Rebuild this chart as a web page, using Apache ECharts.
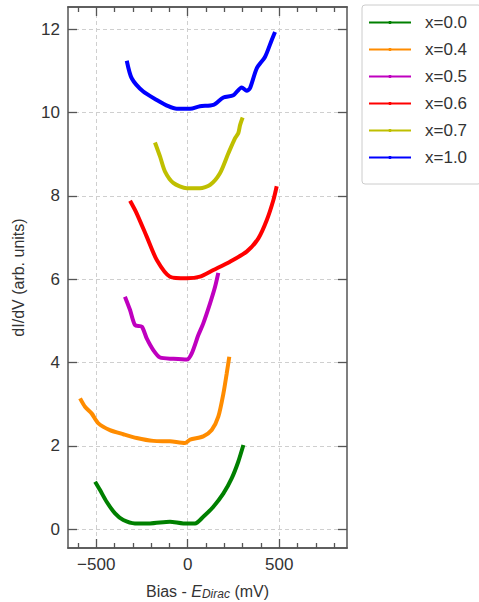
<!DOCTYPE html>
<html>
<head>
<meta charset="utf-8">
<script src="https://cdn.jsdelivr.net/npm/echarts@6/dist/echarts.min.js"></script>
<style>
  html, body { margin: 0; padding: 0; background: #fff; }
  #chart { width: 479px; height: 602px; }
</style>
</head>
<body>
<div id="chart"></div>
<script>
// --- data ---
var seriesNames = ['x=0.0', 'x=0.4', 'x=0.5', 'x=0.6', 'x=0.7', 'x=1.0'];

var biasX00 = [-506, -479, -443, -397, -352, -288, -206, -97, -24, 40, 85, 140, 195, 240, 276, 304];
var didvX00 = [1.14, 0.94, 0.66, 0.38, 0.22, 0.14, 0.14, 0.18, 0.14, 0.14, 0.30, 0.54, 0.86, 1.22, 1.62, 2.02];

var biasX04 = [-588, -561, -525, -488, -425, -352, -279, -188, -97, -15, 13, 85, 131, 167, 195, 213, 227];
var didvX04 = [3.14, 2.94, 2.78, 2.54, 2.38, 2.28, 2.19, 2.12, 2.11, 2.07, 2.15, 2.23, 2.38, 2.70, 3.26, 3.74, 4.14];

var biasX05 = [-343, -315, -288, -251, -224, -188, -151, -79, -5, 22, 58, 85, 122, 149, 167];
var didvX05 = [5.58, 5.26, 4.90, 4.86, 4.58, 4.30, 4.12, 4.09, 4.07, 4.22, 4.66, 4.94, 5.42, 5.81, 6.15];

var biasX06 = [-315, -279, -224, -169, -97, -5, 67, 140, 231, 322, 386, 432, 468, 486];
var didvX06 = [7.88, 7.58, 7.02, 6.46, 6.06, 6.02, 6.06, 6.22, 6.42, 6.66, 6.98, 7.42, 7.90, 8.23];

var biasX07 = [-179, -151, -124, -79, -5, 67, 122, 176, 222, 258, 276, 286, 300];
var didvX07 = [9.28, 8.94, 8.58, 8.31, 8.18, 8.18, 8.26, 8.54, 9.02, 9.38, 9.50, 9.70, 9.88];

var biasX10 = [-333, -306, -243, -169, -106, -60, 13, 67, 140, 195, 249, 295, 322, 340, 377, 422, 459, 477];
var didvX10 = [11.24, 10.82, 10.50, 10.30, 10.15, 10.09, 10.09, 10.15, 10.18, 10.36, 10.41, 10.60, 10.52, 10.58, 11.06, 11.33, 11.74, 11.93];

var xTickValues = [-500, 0, 500];
var xMinorValues = [-600, -400, -300, -200, -100, 100, 200, 300, 400, 600, 700, 800];
var yTickValues = [0, 2, 4, 6, 8, 10, 12];

(function() {
  var ink = '#333';
  var spine = '#555';
  var grid = '#cfcfcf';
  var font = 'Liberation Sans, Arial, sans-serif';
  var colors = ['#008000', '#ff8c00', '#bf00bf', '#ff0000', '#bfbf00', '#0000ff'];
  var xs = [biasX00, biasX04, biasX05, biasX06, biasX07, biasX10];
  var ys = [didvX00, didvX04, didvX05, didvX06, didvX07, didvX10];

  function pairs(a, b) {
    return a.map(function(v, i) { return [v, b[i]]; });
  }
  function minus(v) { return String(v).replace('-', '\u2212'); }

  var xMin = -654, xMax = 870, yMin = -0.45, yMax = 12.53;

  // major axis with labels + overlaid tick-only axes (minor ticks and mirrored sides)
  function xAxisOf(pos, values, len, labels, split) {
    return {
      type: 'value', position: pos, min: xMin, max: xMax,
      axisLine: { show: true, onZero: false, lineStyle: { color: spine, width: 1.5 } },
      axisTick: { show: true, inside: true, length: len, customValues: values, lineStyle: { color: spine, width: 1.3 } },
      axisLabel: labels ? { show: true, customValues: values, margin: 8, color: ink, fontSize: 17, fontFamily: font, formatter: minus } : { show: false },
      splitLine: split ? { show: true, customValues: values, lineStyle: { color: grid, type: [4, 3], width: 1 } } : { show: false }
    };
  }
  function yAxisOf(pos, labels, split) {
    return {
      type: 'value', position: pos, min: yMin, max: yMax,
      axisLine: { show: true, onZero: false, lineStyle: { color: spine, width: 1.5 } },
      axisTick: { show: true, inside: true, length: 9, customValues: yTickValues, lineStyle: { color: spine, width: 1.3 } },
      axisLabel: labels ? { show: true, customValues: yTickValues, margin: 8, color: ink, fontSize: 17, fontFamily: font } : { show: false },
      splitLine: split ? { show: true, customValues: yTickValues, lineStyle: { color: grid, type: [4, 3], width: 1 } } : { show: false }
    };
  }

  var xBottom = xAxisOf('bottom', xTickValues, 9, true, true);
  xBottom.name = 'Bias - {i|E}{s|Dirac} (mV)';
  xBottom.nameLocation = 'middle';
  xBottom.nameGap = 34;
  xBottom.nameTextStyle = {
    color: ink, fontSize: 16, fontFamily: font,
    rich: {
      i: { fontStyle: 'italic', fontSize: 16, color: ink, fontFamily: font },
      s: { fontStyle: 'italic', fontSize: 12, color: ink, fontFamily: font, verticalAlign: 'bottom', padding: [6, 0, 0, 0] }
    }
  };
  var yLeft = yAxisOf('left', true, true);
  yLeft.name = 'dI/dV (arb. units)';
  yLeft.nameLocation = 'middle';
  yLeft.nameGap = 42;
  yLeft.nameTextStyle = { color: ink, fontSize: 16, fontFamily: font };

  var chart = echarts.init(document.getElementById('chart'), null, { renderer: 'svg' });
  chart.setOption({
    animation: false,
    backgroundColor: '#fff',
    grid: { left: 68, right: 132, top: 7, bottom: 54, outerBoundsMode: 'none' },
    legend: {
      data: seriesNames,
      orient: 'vertical', left: 362, top: 5,
      padding: [9, 14, 18, 6],
      itemGap: 10, itemWidth: 42, itemHeight: 4,
      borderColor: '#ccc', borderWidth: 1, borderRadius: 3,
      textStyle: { color: ink, fontSize: 17, fontFamily: font, padding: [0, 0, 0, 9], lineHeight: 17 }
    },
    xAxis: [
      xBottom,
      xAxisOf('bottom', xMinorValues, 5, false, false),
      xAxisOf('top', xTickValues, 9, false, false),
      xAxisOf('top', xMinorValues, 5, false, false)
    ],
    yAxis: [yLeft, yAxisOf('right', false, false)],
    series: seriesNames.map(function(name, k) {
      return {
        name: name,
        type: 'line',
        xAxisIndex: 0, yAxisIndex: 0,
        data: pairs(xs[k], ys[k]),
        smooth: 0.25,
        symbol: 'circle', symbolSize: 3, showSymbol: false,
        lineStyle: { color: colors[k], width: 4 },
        itemStyle: { color: colors[k] }
      };
    })
  });
})();
</script>
</body>
</html>
